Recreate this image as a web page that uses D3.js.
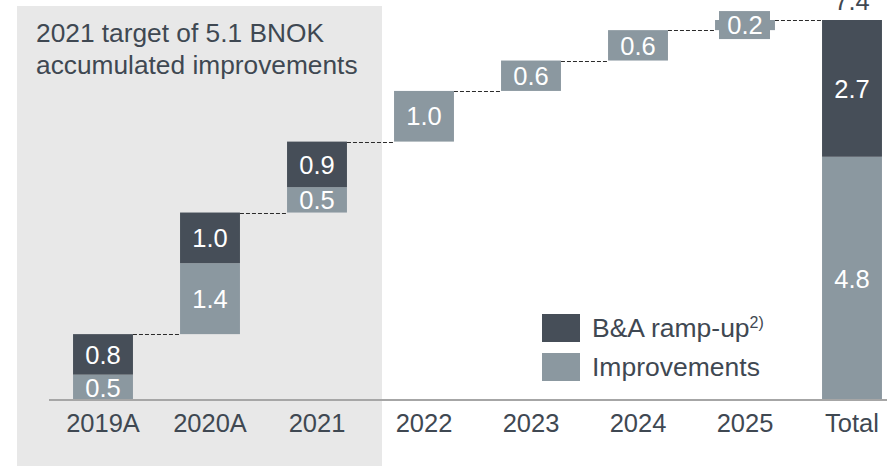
<!DOCTYPE html>
<html>
<head>
<meta charset="utf-8">
<script src="https://cdn.jsdelivr.net/npm/d3@7"></script>
<style>
  body { margin: 0; background: #fff; }
  svg { display: block; font-family: "Liberation Sans", Arial, sans-serif; }
</style>
</head>
<body>
<svg id="chart" width="887" height="466"></svg>
<script>
// values (BNOK)
const years = ["2019A", "2020A", "2021", "2022", "2023", "2024", "2025", "Total"];
const improvements = [0.5, 1.4, 0.5, 1.0, 0.6, 0.6, 0.2];
const rampUp = [0.8, 1.0, 0.9, 0, 0, 0, 0];
const totalImprovements = 4.8;
const totalRampUp = 2.7;
const totalLabel = "7.4";

const dark = "#464e58", light = "#8b98a0", ink = "#3f4852";

const svg = d3.select("#chart");
const width = 887, height = 466;

const x = d3.scaleBand()
  .domain(years)
  .range([49.5, 905.5])
  .paddingInner(0.44)
  .paddingOuter(0.22);

const y = d3.scaleLinear().domain([0, 7.5]).range([400, 20]);

// shaded 2019A-2021 panel
svg.append("rect")
  .attr("x", 17).attr("y", 6)
  .attr("width", 365).attr("height", 460)
  .attr("fill", "#e8e8e8");

svg.append("text")
  .attr("x", 36).attr("y", 42)
  .attr("fill", ink)
  .style("font-size", "26.3px")
  .selectAll("tspan")
  .data(["2021 target of 5.1 BNOK", "accumulated improvements"])
  .join("tspan")
  .attr("x", 36)
  .attr("dy", (d, i) => i ? 32 : 0)
  .text(d => d);

// build waterfall segments
const segs = [];
let base = 0;
const tops = [];
years.slice(0, -1).forEach((yr, i) => {
  segs.push({ yr, y0: base, y1: base + improvements[i], v: improvements[i], c: light });
  base += improvements[i];
  if (rampUp[i]) {
    segs.push({ yr, y0: base, y1: base + rampUp[i], v: rampUp[i], c: dark });
    base += rampUp[i];
  }
  tops.push(base);
});
segs.push({ yr: "Total", y0: 0, y1: totalImprovements, v: totalImprovements, c: light });
segs.push({ yr: "Total", y0: totalImprovements, y1: totalImprovements + totalRampUp, v: totalRampUp, c: dark });

// connectors
const connectors = tops.map((t, i) => ({ from: years[i], to: years[i + 1], v: t }));
svg.append("g")
  .selectAll("line")
  .data(connectors)
  .join("line")
  .attr("x1", d => x(d.from) + x.bandwidth())
  .attr("x2", d => x(d.to))
  .attr("y1", d => Math.round(y(d.v)) + 0.5)
  .attr("y2", d => Math.round(y(d.v)) + 0.5)
  .attr("stroke", "#2b2b2b")
  .attr("stroke-width", 1)
  .attr("stroke-dasharray", "4,2");

const bars = svg.append("g");
bars.selectAll("rect")
  .data(segs)
  .join("rect")
  .attr("x", d => x(d.yr))
  .attr("width", x.bandwidth())
  .attr("y", d => y(d.y1))
  .attr("height", d => y(d.y0) - y(d.y1))
  .attr("fill", d => d.c);

// label backing for segments too thin for the text
bars.selectAll("rect.back")
  .data(segs.filter(d => y(d.y0) - y(d.y1) < 24))
  .join("rect")
  .attr("class", "back")
  .attr("x", d => x(d.yr) + x.bandwidth() / 2 - 26)
  .attr("width", 51)
  .attr("y", d => (y(d.y0) + y(d.y1)) / 2 - 14)
  .attr("height", 28)
  .attr("fill", d => d.c);

svg.append("g")
  .selectAll("text")
  .data(segs)
  .join("text")
  .attr("x", d => x(d.yr) + x.bandwidth() / 2)
  .attr("y", d => (y(d.y0) + y(d.y1)) / 2)
  .attr("dy", "0.36em")
  .attr("text-anchor", "middle")
  .attr("fill", "#fff")
  .style("font-size", "25.5px")
  .text(d => d3.format(".1f")(d.v));

svg.append("text")
  .attr("x", x("Total") + x.bandwidth() / 2)
  .attr("y", 10)
  .attr("text-anchor", "middle")
  .attr("fill", ink)
  .style("font-size", "25.5px")
  .text(totalLabel);

// x axis
const axis = svg.append("g").attr("transform", "translate(0,400)")
  .call(d3.axisBottom(x).tickSize(0).tickPadding(14));
axis.select(".domain").remove();
axis.append("line")
  .attr("x1", 49).attr("x2", width)
  .attr("stroke", "#a6a6a6").attr("stroke-width", 2);
axis.selectAll(".tick text")
  .attr("fill", ink)
  .style("font-size", "25.5px")
  .style("font-family", "'Liberation Sans', Arial, sans-serif");

// legend
const legend = svg.append("g").attr("transform", "translate(542,314)");
const items = [{ label: "B&A ramp-up", sup: "2)", c: dark }, { label: "Improvements", c: light }];
const li = legend.selectAll("g").data(items).join("g")
  .attr("transform", (d, i) => `translate(0,${i * 39})`);
li.append("rect").attr("width", 38).attr("height", 28).attr("fill", d => d.c);
const lt = li.append("text")
  .attr("x", 50).attr("y", 23)
  .attr("fill", ink)
  .style("font-size", "26.5px");
lt.append("tspan").text(d => d.label);
lt.filter(d => d.sup).append("tspan")
  .attr("dy", -9)
  .style("font-size", "16px")
  .text(d => d.sup);
</script>
</body>
</html>
